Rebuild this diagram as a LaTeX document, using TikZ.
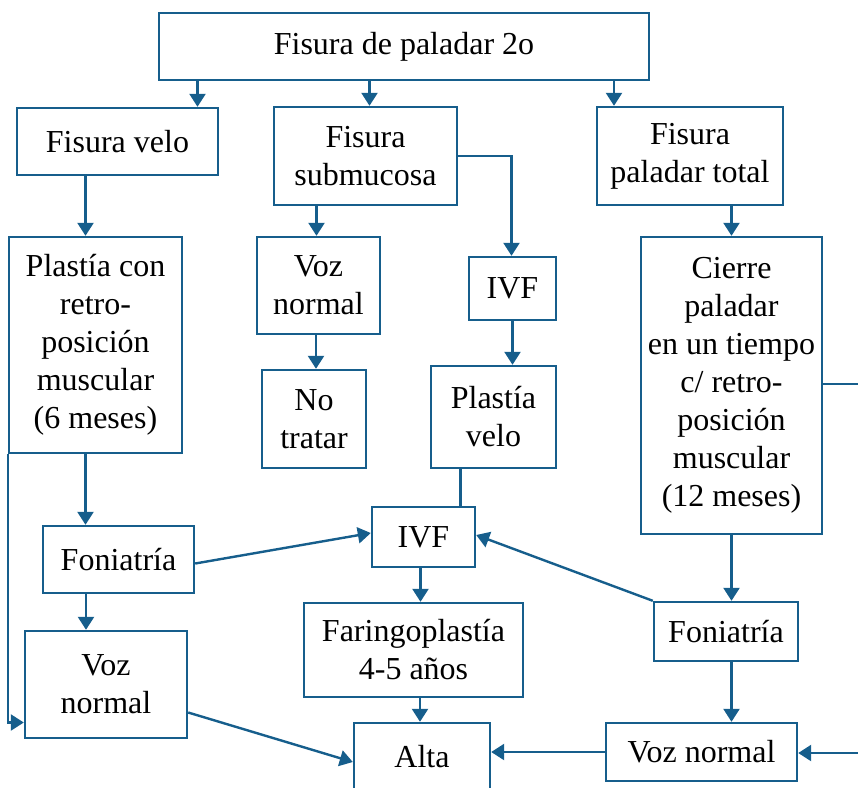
\documentclass[tikz,border=0pt]{standalone}
\usepackage{fontspec}
\setmainfont{Liberation Serif}
\usetikzlibrary{arrows.meta}
\definecolor{azul}{RGB}{22,94,140}
\begin{document}
\begin{tikzpicture}[x=1pt,y=-1pt,
  caja/.style={draw=azul,line width=2.4pt,rectangle,inner sep=0pt,align=center,
    font=\fontsize{32}{38}\selectfont},
  flecha/.style={draw=azul,line width=2.4pt,-{Triangle[length=13pt,width=16pt]}},
  linea/.style={draw=azul,line width=2.4pt}]
\useasboundingbox (0,0) rectangle (858,787);

% cajas
\node[caja,minimum width=490,minimum height=67] (top) at (404,46.5) {Fisura de paladar 2o};
\node[caja,minimum width=201,minimum height=67] (fvelo) at (117.5,141.5) {Fisura velo};
\node[caja,minimum width=183,minimum height=98] (fsub) at (365.5,156) {Fisura\\submucosa};
\node[caja,minimum width=186,minimum height=98] (ftotal) at (690,156) {Fisura\\paladar total};
\node[caja,minimum width=173,minimum height=216] (plastia) at (95.5,345)
  {Plastía con\\retro-\\posición\\muscular\\(6 meses)};
\node[caja,minimum width=123,minimum height=97] (voz1) at (318.5,285.5) {Voz\\normal};
\node[caja,minimum width=87,minimum height=63] (ivf1) at (512.5,288.5) {IVF};
\node[caja,minimum width=104,minimum height=98] (notratar) at (314,419) {No\\tratar};
\node[caja,minimum width=125,minimum height=102] (pvelo) at (493.5,417) {Plastía\\velo};
\node[caja,minimum width=181,minimum height=297] (cierre) at (731.5,385.5)
  {Cierre\\paladar\\en un tiempo\\c/ retro-\\posición\\muscular\\(12 meses)};
\node[caja,minimum width=151,minimum height=67] (fon1) at (118.5,559.5) {Foniatría};
\node[caja,minimum width=103,minimum height=60] (ivf2) at (423.5,537) {IVF};
\node[caja,minimum width=219,minimum height=94] (faringo) at (413.5,650) {Faringoplastía\\4-5 años};
\node[caja,minimum width=144,minimum height=59] (fon2) at (726,631.5) {Foniatría};
\node[caja,minimum width=162,minimum height=107] (voz2) at (106,684.5) {Voz\\normal};
\node[caja,minimum width=136,minimum height=68] (alta) at (422,757) {Alta};
\node[caja,minimum width=191,minimum height=58] (voz3) at (701.5,752) {Voz normal};

% bordes libres a la derecha
\coordinate (der1) at (858,384);
\coordinate (der2) at (858,753);

% conectores
\draw[flecha] ([xshift=80pt]fvelo.north |- top.south) -- ([xshift=80pt]fvelo.north);
\draw[flecha] ([xshift=4pt]fsub.north |- top.south) -- ([xshift=4pt]fsub.north);
\draw[flecha] ([xshift=-76pt]ftotal.north |- top.south) -- ([xshift=-76pt]ftotal.north);
\draw[flecha] ([xshift=-10pt]plastia.north |- fvelo.south) -- ([xshift=-10pt]plastia.north);
\draw[flecha] ([xshift=-2pt]voz1.north |- fsub.south) -- ([xshift=-2pt]voz1.north);
\draw[flecha] (fsub.east) -| ([xshift=-1pt]ivf1.north);
\draw[flecha] ([xshift=2pt]notratar.north |- voz1.south) -- ([xshift=2pt]notratar.north);
\draw[flecha] (ivf1.south) -- (ivf1.south |- pvelo.north);
\draw[linea] ([xshift=-33pt]pvelo.south) -- ([xshift=-33pt]pvelo.south |- ivf2.north);
\draw[flecha] (cierre.north |- ftotal.south) -- (cierre.north);
\draw[flecha] ([xshift=-10pt]plastia.south) -- ([xshift=-10pt]plastia.south |- fon1.north);
\draw[flecha] ([xshift=-20pt]voz2.north |- fon1.south) -- ([xshift=-20pt]voz2.north);
\draw[flecha] ([yshift=-4pt]fon1.east) -- ([yshift=4pt]ivf2.west);
\draw[flecha] ([xshift=-3pt]ivf2.south) -- ([xshift=-3pt]ivf2.south |- faringo.north);
\draw[flecha] ([xshift=-2pt]alta.north |- faringo.south) -- ([xshift=-2pt]alta.north);
\draw[flecha] (fon2.north west) -- ([yshift=2pt]ivf2.east);
\draw[flecha] (cierre.south) -- (cierre.south |- fon2.north);
\draw[flecha] (cierre.south |- fon2.south) -- (cierre.south |- voz3.north);
\draw[flecha] (voz3.west) -- (voz3.west -| alta.east);
\draw[flecha] ([yshift=-28pt]voz2.east) -- ([yshift=-5pt]alta.west);
\draw[flecha] (plastia.south west) |- ([yshift=-38pt]voz2.west);
\draw[linea] (cierre.east |- der1) -- (der1);
\draw[flecha] (der2) -- (der2 -| voz3.east);
\end{tikzpicture}
\end{document}
